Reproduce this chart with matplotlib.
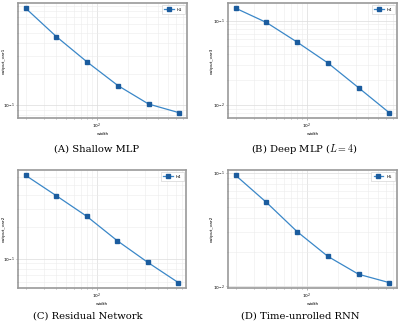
import numpy as np
import matplotlib
matplotlib.use('Agg')
import matplotlib.pyplot as plt

# widths shared by all four panels
widths = [20, 40, 80, 160, 320, 640]

# (log-log)
shallow_mlp = [0.86, 0.457, 0.26, 0.154, 0.102, 0.084]
deep_mlp = [0.140, 0.095, 0.0557, 0.0316, 0.0161, 0.00815]
residual = [0.621, 0.398, 0.253, 0.148, 0.092, 0.059]
rnn = [0.0953, 0.0551, 0.0304, 0.0184, 0.0128, 0.0108]

series_labels = ['h1', 'h4', 'h4', 'h5']
y_labels = ['output_var1', 'output_var3', 'output_var2', 'output_var2']
captions = ['(A) Shallow MLP', '(B) Deep MLP ($L = 4$)',
            '(C) Residual Network', '(D) Time-unrolled RNN']

plt.rcParams['mathtext.fontset'] = 'cm'

W, H = 400, 325
fig = plt.figure(figsize=(W / 100, H / 100), dpi=100)


def px_rect(x0, y0, x1, y1):
    """pixel box (top-left origin) -> figure fraction rect"""
    return [x0 / W, 1 - y1 / H, (x1 - x0) / W, (y1 - y0) / H]


boxes = [(18, 3, 187, 118), (228, 3, 397, 118),
         (18, 170, 186, 288), (228, 170, 397, 288)]
caption_pos = [(97, 149), (304, 149), (88, 316), (300, 316)]
ylabel_x = [6, 214, 6, 214]
all_data = [shallow_mlp, deep_mlp, residual, rnn]

for i, ys in enumerate(all_data):
    x0, y0, x1, y1 = boxes[i]
    ax = fig.add_axes(px_rect(x0, y0, x1, y1))
    ax.plot(widths, ys, color='#3a87c8', lw=0.9, marker='s', ms=2.3,
            mfc='#1b5c9e', mec='#1b5c9e', label=series_labels[i])
    ax.set_xscale('log')
    ax.set_yscale('log')
    ax.grid(True, which='major', color='#dcdcdc', lw=0.5)
    ax.grid(True, which='minor', color='#ececec', lw=0.4)
    ax.set_axisbelow(True)
    for sp in ax.spines.values():
        sp.set_color('#9a9a9a')
        sp.set_linewidth(1.2)
    ax.tick_params(which='both', labelsize=3.2, length=1.5, width=0.4,
                   pad=1, color='#777777')
    ax.tick_params(which='minor', length=1.0)
    ax.set_xlabel('width', fontsize=3.2, labelpad=1)
    ax.set_ylabel(y_labels[i], fontsize=3.2)
    ax.yaxis.set_label_coords((ylabel_x[i] - x0) / (x1 - x0), 0.5)
    leg = ax.legend(loc='upper right', fontsize=3.2, handlelength=2.2,
                    borderpad=0.5, framealpha=1, fancybox=False)
    leg.get_frame().set_edgecolor('#cccccc')
    leg.get_frame().set_linewidth(0.4)
    cx, cy = caption_pos[i]
    fig.text(cx / W, 1 - cy / H, captions[i], ha='center', va='center',
             fontsize=7.2, family='DejaVu Serif')

fig.savefig('out.png', dpi=100)
